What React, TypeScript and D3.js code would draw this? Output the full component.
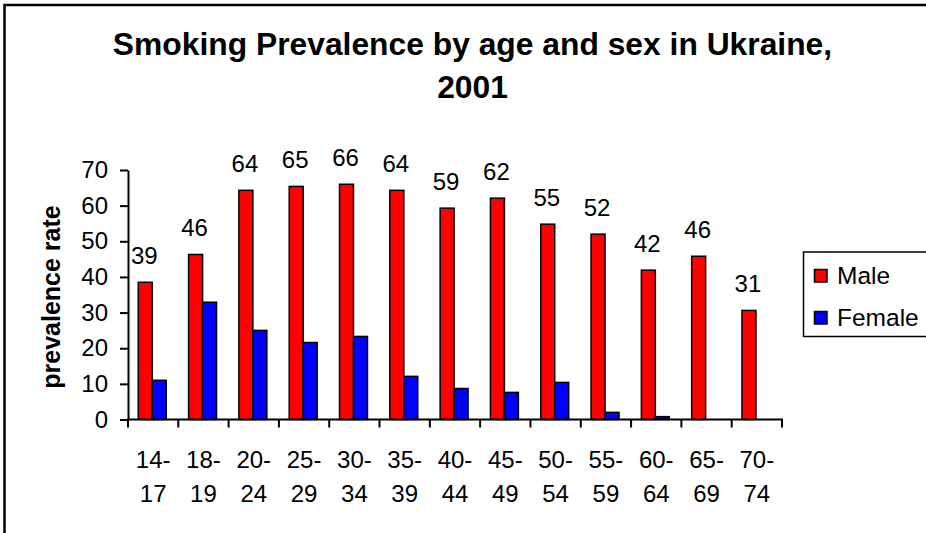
import * as d3 from 'd3';
import { useEffect, useRef } from 'react';

// Smoking prevalence (%) by age group, Ukraine 2001
const ageGroups = ['14-17', '18-19', '20-24', '25-29', '30-34', '35-39', '40-44', '45-49', '50-54', '55-59', '60-64', '65-69', '70-74'];
const maleRates = [38.5, 46.3, 64.3, 65.4, 66.0, 64.3, 59.3, 62.1, 54.8, 52.0, 41.9, 45.8, 30.6];
const femaleRates = [11.0, 32.9, 25.0, 21.6, 23.3, 12.1, 8.7, 7.6, 10.4, 2.0, 0.8, 0, 0];
const seriesNames = ['Male', 'Female'];
const seriesColors = ['#ff0000', '#0000ff'];
const yTicks = [0, 10, 20, 30, 40, 50, 60, 70];
const titleLines = ['Smoking Prevalence by age and sex in Ukraine,', '2001'];

const FONT = '"Liberation Sans", Arial, Helvetica, sans-serif';

function App() {
  const svgRef = useRef<SVGSVGElement>(null);

  useEffect(() => {
    if (!svgRef.current) {
      return;
    }
    const svg = d3.select(svgRef.current);
    svg.selectAll('*').remove();

    const plot = { left: 128, right: 782, top: 170, bottom: 419.5 };

    // outer chart frame (cropped on the right and bottom)
    svg
      .append('rect')
      .attr('x', 4.5)
      .attr('y', 5)
      .attr('width', 1000)
      .attr('height', 1000)
      .attr('fill', '#fff')
      .attr('stroke', '#000')
      .attr('stroke-width', 2.5);

    // title
    svg
      .append('g')
      .selectAll('text')
      .data(titleLines)
      .join('text')
      .attr('x', 472.5)
      .attr('y', (_, i) => 55 + i * 43)
      .attr('text-anchor', 'middle')
      .style('font-family', FONT)
      .style('font-size', '31.8px')
      .style('font-weight', 'bold')
      .text((d) => d);

    // scales
    const x = d3.scaleBand<string>().domain(ageGroups).range([plot.left, plot.right]).padding(0);
    const xs = d3
      .scaleBand<string>()
      .domain(seriesNames)
      .range([0, x.bandwidth()])
      .paddingInner(0)
      .paddingOuter(0.8)
      .align(0.46);
    const y = d3.scaleLinear().domain([0, 70]).range([plot.bottom, plot.top]);

    // bars
    const values = [maleRates, femaleRates];
    seriesNames.forEach((name, si) => {
      svg
        .append('g')
        .selectAll('rect')
        .data(ageGroups.map((g, i) => ({ g, v: values[si][i] })).filter((d) => d.v > 0))
        .join('rect')
        .attr('x', (d) => (x(d.g) as number) + (xs(name) as number))
        .attr('y', (d) => y(d.v))
        .attr('width', xs.bandwidth())
        .attr('height', (d) => y(0) - y(d.v))
        .attr('fill', seriesColors[si])
        .attr('stroke', '#000')
        .attr('stroke-width', 1.5);
    });

    // value labels above male bars
    svg
      .append('g')
      .selectAll('text')
      .data(ageGroups.map((g, i) => ({ g, v: maleRates[i] })))
      .join('text')
      .attr('x', (d) => (x(d.g) as number) + (xs('Male') as number) + xs.bandwidth() / 2 - 1)
      .attr('y', (d) => y(d.v) - 18.5)
      .attr('text-anchor', 'middle')
      .style('font-family', FONT)
      .style('font-size', '24px')
      .text((d) => Math.round(d.v));

    // y axis
    const yAxis = svg
      .append('g')
      .attr('transform', `translate(${plot.left},0)`)
      .call(d3.axisLeft(y).tickValues(yTicks).tickSize(8).tickSizeOuter(0).tickPadding(12));
    yAxis.selectAll('path, line').attr('stroke', '#000').attr('stroke-width', 2);
    yAxis
      .selectAll('text')
      .attr('fill', '#000')
      .style('font-family', FONT)
      .style('font-size', '24px');

    // x axis line and category boundary ticks
    const boundaries = ageGroups.map((g) => x(g) as number).concat([plot.right]);
    const xAxis = svg.append('g');
    xAxis
      .append('line')
      .attr('x1', plot.left - 1)
      .attr('x2', plot.right + 1)
      .attr('y1', plot.bottom)
      .attr('y2', plot.bottom)
      .attr('stroke', '#000')
      .attr('stroke-width', 2);
    xAxis
      .selectAll('line.tick')
      .data(boundaries)
      .join('line')
      .attr('class', 'tick')
      .attr('x1', (d) => d)
      .attr('x2', (d) => d)
      .attr('y1', plot.bottom)
      .attr('y2', plot.bottom + 8)
      .attr('stroke', '#000')
      .attr('stroke-width', 2);

    const xLabels = xAxis
      .selectAll('g.label')
      .data(ageGroups)
      .join('g')
      .attr('class', 'label')
      .attr('transform', (d) => `translate(${(x(d) as number) + x.bandwidth() / 2},0)`)
      .style('font-family', FONT)
      .style('font-size', '24px');
    xLabels
      .append('text')
      .attr('y', 467.5)
      .attr('text-anchor', 'middle')
      .text((d) => d.split('-')[0] + '-');
    xLabels
      .append('text')
      .attr('y', 501.5)
      .attr('text-anchor', 'middle')
      .text((d) => d.split('-')[1]);

    // y axis title
    svg
      .append('text')
      .attr('transform', 'translate(60,297) rotate(-90)')
      .attr('text-anchor', 'middle')
      .style('font-family', FONT)
      .style('font-size', '25px')
      .style('font-weight', 'bold')
      .text('prevalence rate');

    // legend
    const legend = svg.append('g');
    legend
      .append('rect')
      .attr('x', 803.5)
      .attr('y', 252)
      .attr('width', 200)
      .attr('height', 84.5)
      .attr('fill', '#fff')
      .attr('stroke', '#000')
      .attr('stroke-width', 1.5);

    seriesNames.forEach((name, i) => {
      const row = legend.append('g').attr('transform', `translate(0, ${i * 42})`);
      row
        .append('rect')
        .attr('x', 814.5)
        .attr('y', 269.5)
        .attr('width', 12.5)
        .attr('height', 12.5)
        .attr('fill', seriesColors[i])
        .attr('stroke', '#000')
        .attr('stroke-width', 1.5);
      row
        .append('text')
        .attr('x', 837)
        .attr('y', 283.5)
        .style('font-family', FONT)
        .style('font-size', '24.5px')
        .text(name);
    });
  }, []);

  return (
    <svg
      ref={svgRef}
      width={926}
      height={533}
      style={{ position: 'absolute', left: 0, top: 0, background: '#fff' }}
    />
  );
}

export default App;
